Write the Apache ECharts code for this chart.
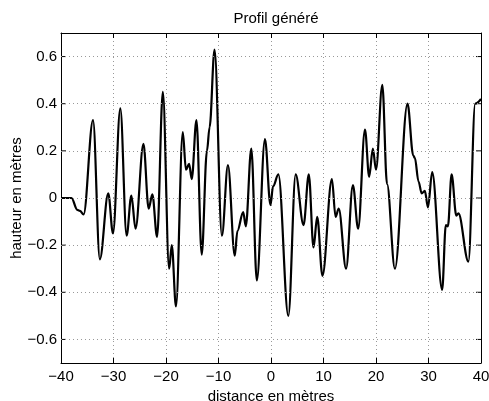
<!DOCTYPE html>
<html>
<head>
<meta charset="utf-8">
<script src="https://cdn.jsdelivr.net/npm/echarts@6/dist/echarts.min.js"></script>
<style>
  html, body { margin: 0; padding: 0; background: #fff; }
  #chart { width: 489px; height: 401px; }
</style>
</head>
<body>
<div id="chart"></div>
<script>
// Profile: distance (m) and height (m) sampled at the turning points of the curve
const distance = [
  -40, -38, -36.9, -36.4, -35.7, -33.9, -32.6, -31.0, -30.1, -28.7, -27.5, -26.6, -25.8,
  -24.3, -23.3, -22.6, -21.7, -20.6, -19.4, -18.9, -18.1, -16.8, -16.2, -15.6, -15.1,
  -14.2, -13.2, -12.2, -11.7, -10.75, -9.35, -8.2, -6.9, -6.4, -5.3, -4.8, -3.75, -2.7,
  -1.15, -0.1, 0.4, 1.4, 3.3, 4.7, 6.2, 7.2, 8.1, 8.8, 9.8, 11.6, 12.3, 12.9, 14.3,
  15.6, 16.6, 17.9, 18.7, 19.4, 20.0, 21.2, 22.1, 23.6, 26.0, 27.1, 27.4, 28.1, 28.7,
  29.3, 29.9, 30.7, 32.6, 33.3, 33.7, 34.4, 35.3, 35.7, 37.6, 38.9, 40
];
const height = [
  0, 0, -0.05, -0.055, -0.07, 0.33, -0.26, 0.02, -0.15, 0.38, -0.16, 0.01, -0.13,
  0.23, -0.045, 0.015, -0.165, 0.45, -0.3, -0.2, -0.46, 0.28, 0.12, 0.145, 0.08,
  0.33, -0.24, 0.2, 0.3, 0.63, -0.16, 0.14, -0.245, -0.14, -0.06, -0.12, 0.21, -0.35,
  0.25, -0.03, 0.05, 0.1, -0.5, 0.1, -0.115, 0.1, -0.21, -0.08, -0.33, 0.08, -0.08, -0.045, -0.3,
  0.055, -0.13, 0.29, 0.09, 0.21, 0.12, 0.48, 0.06, -0.3, 0.4, 0.18, 0.17, 0.07, 0.02,
  0.03, -0.04, 0.11, -0.39, -0.115, -0.12, 0.1, -0.075, -0.065, -0.27, 0.4, 0.42
];
const xTicks = [-40, -30, -20, -10, 0, 10, 20, 30, 40];
const yTicks = [-0.6, -0.4, -0.2, 0, 0.2, 0.4, 0.6];

const font = 'Liberation Sans, Arial, Helvetica, sans-serif';
const chart = echarts.init(document.getElementById('chart'), null, { renderer: 'canvas' });

const gridLine = { show: true, lineStyle: { color: '#999', type: [1, 3], width: 1 } };
const frame = { show: true, onZero: false, lineStyle: { color: '#000', width: 1 } };
const inTick = { show: true, inside: true, length: 5, lineStyle: { color: '#000' } };

chart.setOption({
  animation: false,
  title: {
    text: 'Profil généré',
    left: 271, top: 6, textAlign: 'center',
    textStyle: { fontFamily: font, fontSize: 15, fontWeight: 'normal', color: '#000' }
  },
  grid: { left: 61, right: 8, top: 33, bottom: 38, containLabel: false, outerBoundsMode: 'none' },
  xAxis: [{
    type: 'value', min: -40, max: 40, interval: 10,
    name: 'distance en mètres', nameLocation: 'middle', nameGap: 19,
    nameTextStyle: { fontFamily: font, fontSize: 15, color: '#000' },
    axisLine: frame, axisTick: inTick, splitLine: gridLine,
    axisLabel: {
      fontFamily: font, fontSize: 15, color: '#000', margin: 6,
      formatter: v => (xTicks.includes(v) ? String(v).replace('-', '\u2212') : '')
    }
  }, {
    type: 'value', position: 'top', min: -40, max: 40, interval: 10,
    axisLine: frame, axisTick: inTick, axisLabel: { show: false }, splitLine: { show: false }
  }],
  yAxis: [{
    type: 'value', min: -0.7, max: 0.7,
    name: 'hauteur en mètres', nameLocation: 'middle', nameGap: 37,
    nameTextStyle: { fontFamily: font, fontSize: 15, color: '#000' },
    axisLine: frame, axisTick: { show: false }, splitLine: { show: false },
    axisLabel: { show: false }
  }, {
    type: 'value', position: 'right', min: -0.7, max: 0.7,
    axisLine: frame, axisTick: { show: false }, splitLine: { show: false }, axisLabel: { show: false }
  }],
  series: [{
    type: 'line',
    data: distance.map((d, i) => [d, height[i]]),
    smooth: 0.35,
    smoothMonotone: 'x',
    showSymbol: false,
    lineStyle: { color: '#000', width: 2.2 },
    z: 3
  }, {
    // horizontal dotted grid at the labelled heights
    type: 'line', data: [],
    markLine: {
      silent: true, symbol: 'none', animation: false,
      lineStyle: { color: '#999', type: [1, 3], width: 1 },
      label: { show: false },
      data: yTicks.map(v => ({ yAxis: v }))
    },
    z: 1
  }],
  graphic: []
});

// y tick labels and inward ticks, placed through the axis scale
function drawYTicks() {
  const g = [];
  const x0 = chart.convertToPixel({ xAxisIndex: 0 }, -40);
  const x1 = chart.convertToPixel({ xAxisIndex: 0 }, 40);
  yTicks.forEach(v => {
    const y = chart.convertToPixel({ yAxisIndex: 0 }, v);
    g.push({ type: 'line', shape: { x1: x0, y1: y, x2: x0 + 5, y2: y }, style: { stroke: '#000', lineWidth: 1 } });
    g.push({ type: 'line', shape: { x1: x1 - 5, y1: y, x2: x1, y2: y }, style: { stroke: '#000', lineWidth: 1 } });
    g.push({
      type: 'text', x: x0 - 4, y: y,
      style: {
        text: String(v).replace('-', '\u2212'), fontFamily: font, fontSize: 15, fill: '#000',
        textAlign: 'right', textVerticalAlign: 'middle'
      }
    });
  });
  chart.setOption({ graphic: g });
}
drawYTicks();
</script>
</body>
</html>
